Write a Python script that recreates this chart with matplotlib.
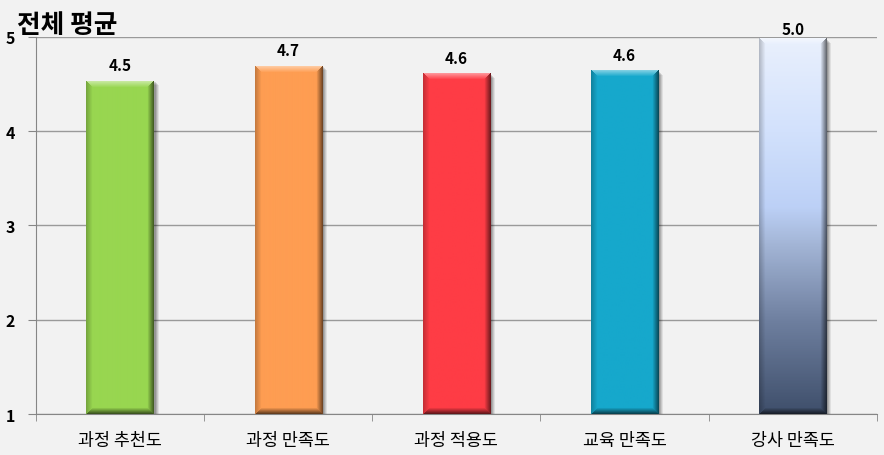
import numpy as np
import matplotlib
matplotlib.use('Agg')
import matplotlib.pyplot as plt
from matplotlib.patches import Rectangle
from matplotlib.colors import LinearSegmentedColormap, to_rgb

plt.rcParams['font.family'] = ['Noto Sans CJK KR', 'DejaVu Sans']

title = '전체 평균'
categories = ['과정 추천도', '과정 만족도', '과정 적용도', '교육 만족도', '강사 만족도']
values = [4.53, 4.69, 4.61, 4.64, 4.98]
labels = ['4.5', '4.7', '4.6', '4.6', '5.0']
colors = ['#98d650', '#fe9d52', '#fe3c45', '#16a8cc', None]
yticks = [1, 2, 3, 4, 5]

BG = '#f2f2f2'
fig = plt.figure(figsize=(8.84, 4.56), dpi=100, facecolor=BG)
ax = fig.add_axes([0.0407, 0.0899, 0.951, 0.8268], facecolor=BG)

x = np.arange(len(categories))
bars = ax.bar(x, np.array(values) - 1, bottom=1, width=0.4,
              color=[c if c else '#c0d2f2' for c in colors], zorder=3)

ax.set_xlim(-0.5, len(categories) - 0.5)
ax.set_ylim(1, 5)

# pixel size of one data unit, for bevel sizing
fig.canvas.draw()
bbox = ax.get_window_extent()
px_x = bbox.width / 5.0
px_y = bbox.height / 4.0

grad = LinearSegmentedColormap.from_list('g', [
    (0.0, '#3f4f6b'), (0.25, '#6f80a0'), (0.45, '#a3b5d6'),
    (0.55, '#bcd0f6'), (0.75, '#d2e1fc'), (1.0, '#e9f0fd')])

for i, b in enumerate(bars):
    x0, w = b.get_x(), b.get_width()
    y0, h = b.get_y(), b.get_height()
    # soft drop shadow
    for k, a in [(5, 0.08), (4, 0.1), (3, 0.12), (2, 0.14)]:
        ax.add_patch(Rectangle((x0 + k / px_x, y0), w, h - (k - 1) / px_y,
                               facecolor='#000000', alpha=a, lw=0, zorder=2))
    W = int(round(w * px_x))
    H = int(round(h * px_y))
    yy, xx = np.mgrid[0:H, 0:W]
    if colors[i] is None:
        t = 1 - yy / (H - 1)
        base = grad(t)[..., :3]
    else:
        base = np.ones((H, W, 3)) * np.array(to_rgb(colors[i]))
    img = base.copy()
    bev = 6.0
    d = np.stack([xx, W - 1 - xx, yy, H - 1 - yy]).astype(float)
    side = np.argmin(d, axis=0)
    f = np.clip(1 - np.min(d, axis=0) / bev, 0, 1)
    amt = np.array([-0.22, -0.55, 0.45, -0.6])
    s = (amt[side] * f)[..., None]
    img = np.where(s > 0, img + (1 - img) * s, img * (1 + s))
    ax.imshow(np.clip(img, 0, 1), extent=(x0, x0 + w, y0, y0 + h),
              aspect='auto', interpolation='bilinear', zorder=4)
    # label sits above the bar, but no higher than the top of the plot area
    ly = min(y0 + h + 8 / px_y, ax.get_ylim()[1])
    ax.text(x0 + w / 2, ly, labels[i], ha='center', va='bottom',
            fontsize=11, fontweight='bold', zorder=6)

ax.set_aspect('auto')
ax.set_xlim(-0.5, len(categories) - 0.5)
ax.set_ylim(1, 5)

ax.set_yticks(yticks)
ax.set_yticklabels([str(v) for v in yticks], fontsize=11.5, fontweight='bold')
ax.set_xticks(x)
ax.set_xticklabels(categories, fontsize=12.5, fontweight='medium')
ax.set_xticks(np.arange(-0.5, len(categories)), minor=True)
ax.tick_params(axis='x', which='major', length=0, pad=12)
ax.tick_params(axis='x', which='minor', length=5, color='#868686', direction='out')
ax.tick_params(axis='y', length=6, color='#868686', pad=9)
ax.grid(axis='y', color='#9a9a9a', lw=1, zorder=0)

for sp in ['top', 'right']:
    ax.spines[sp].set_visible(False)
for sp in ['left', 'bottom']:
    ax.spines[sp].set_color('#868686')

fig.text(0.019, 1 - 33 / 456, title, fontsize=18.5, fontweight='bold', va='baseline')

fig.savefig('out.png', dpi=100, facecolor=BG)
